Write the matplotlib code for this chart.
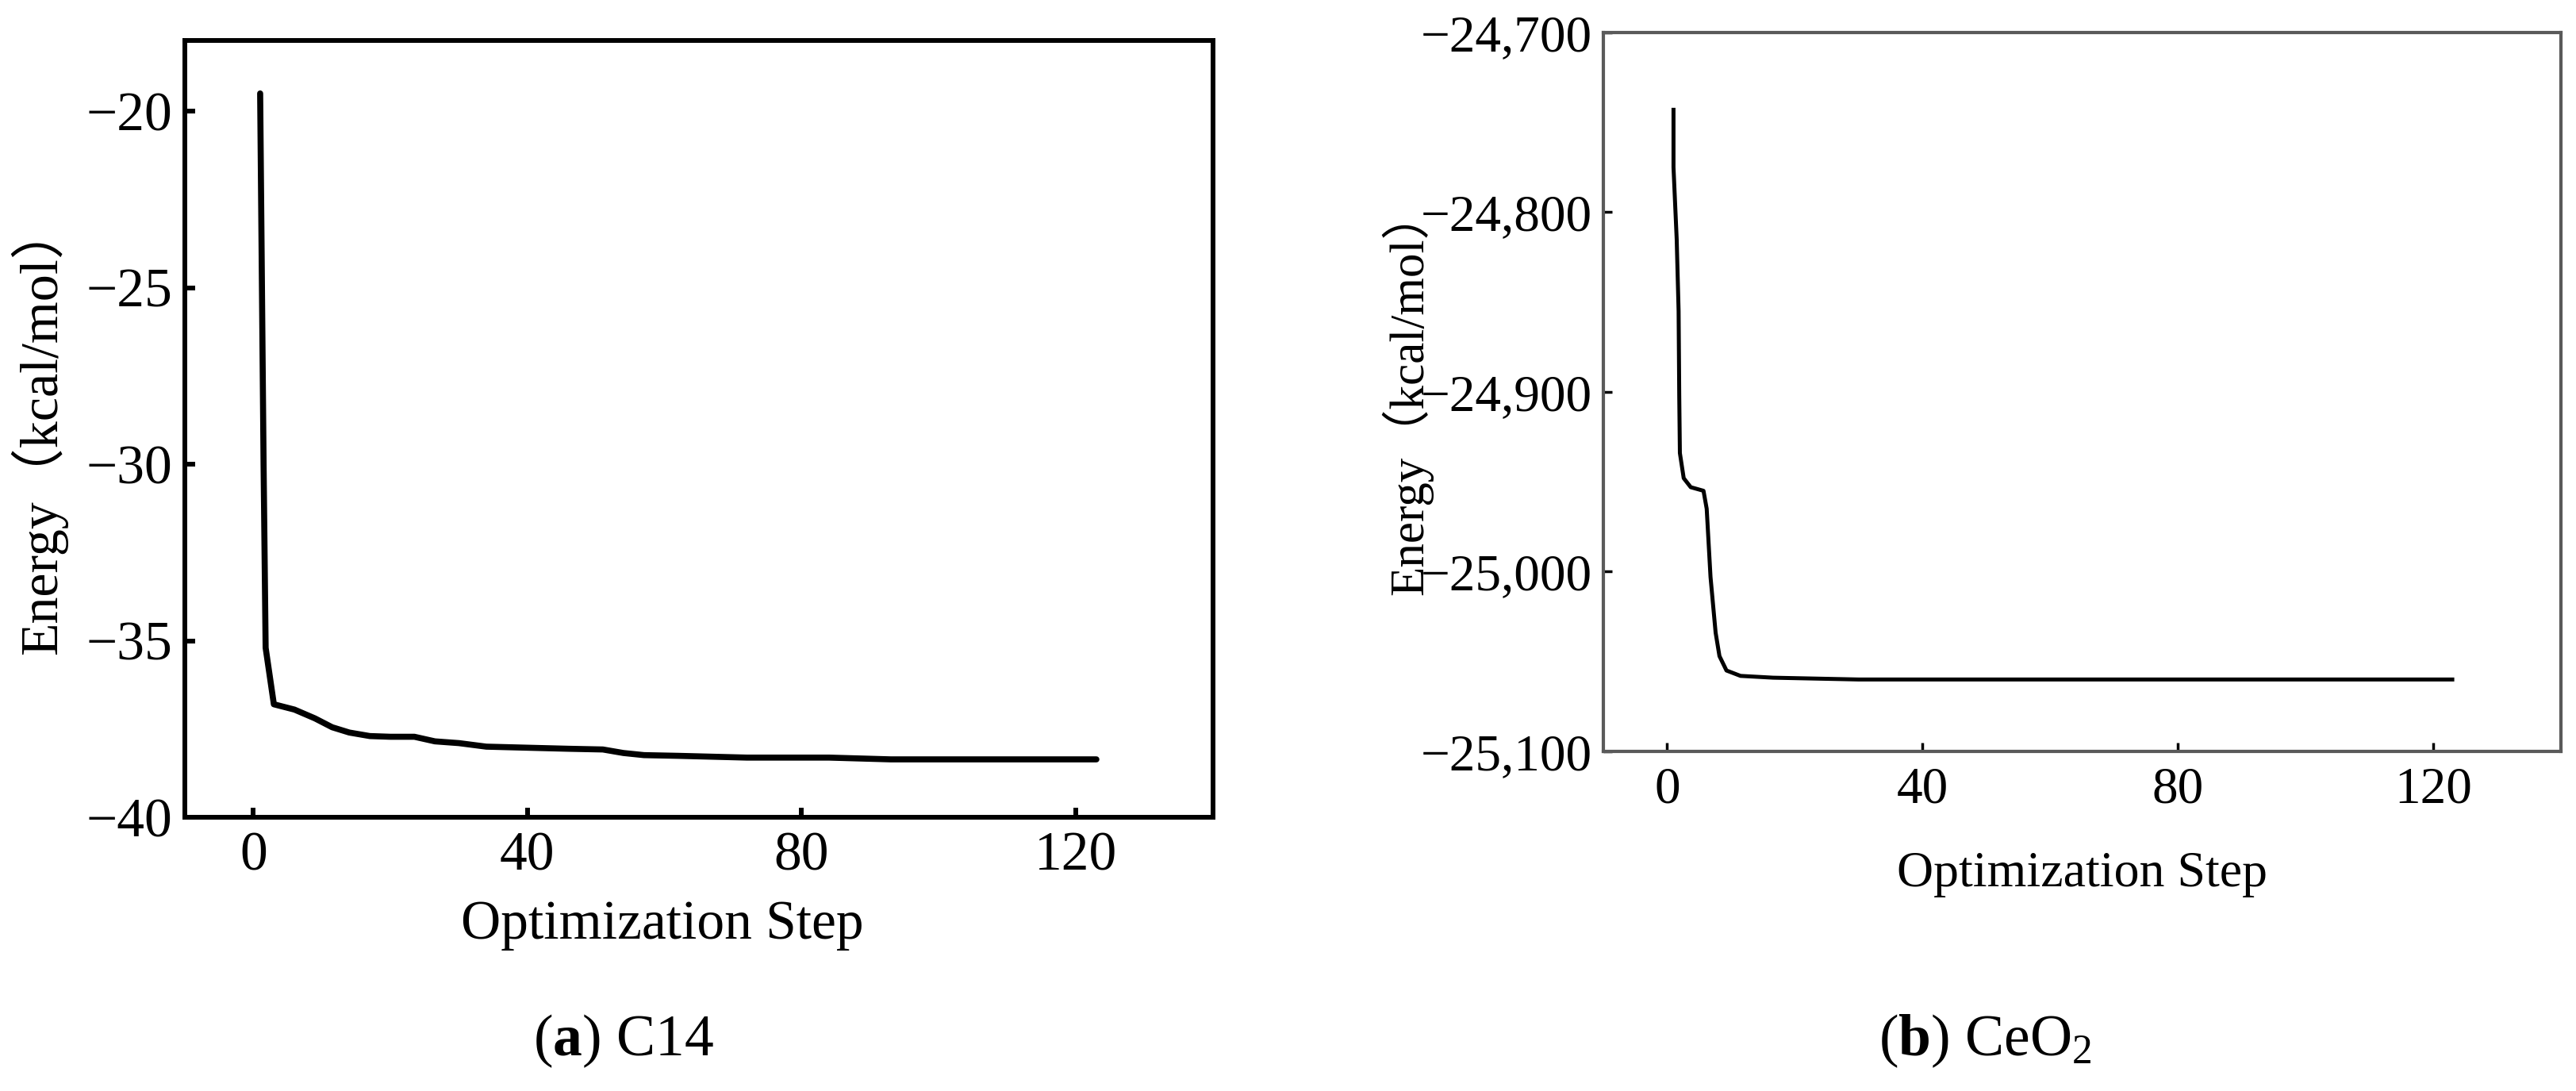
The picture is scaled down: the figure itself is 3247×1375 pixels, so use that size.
import matplotlib.pyplot as plt
from matplotlib.ticker import FuncFormatter

plt.rcParams['font.family'] = ['Liberation Serif', 'Noto Sans CJK SC']
plt.rcParams['mathtext.fontset'] = 'custom'
plt.rcParams['mathtext.rm'] = 'Liberation Serif'
plt.rcParams['mathtext.bf'] = 'Liberation Serif:bold'
plt.rcParams['mathtext.it'] = 'Liberation Serif:italic'

# (a) C14 energy during geometry optimization
c14_step = [1, 1.5, 1.8, 3, 6, 9, 11.5, 14, 17, 20, 23.5, 26.5, 30, 34,
            40, 46, 51, 54, 57, 62, 72, 84, 93, 110, 123]
c14_energy = [-19.5, -30.0, -35.2, -36.8, -36.95, -37.2, -37.45, -37.6, -37.7,
              -37.72, -37.72, -37.85, -37.9, -38.0, -38.03, -38.06, -38.08,
              -38.18, -38.24, -38.26, -38.31, -38.31, -38.36, -38.36, -38.36]

# (b) CeO2 energy during geometry optimization
ceo2_step = [1.0, 1.0, 1.5, 1.8, 1.9, 2.0, 2.6, 3.7, 5.7, 6.2, 6.8, 7.6, 8.2,
             9.3, 11.5, 16.6, 30, 60, 123]
ceo2_energy = [-24743, -24775, -24815, -24855, -24902, -24934, -24948, -24953,
               -24955, -24965, -25003, -25034, -25047, -25055, -25058, -25059,
               -25060, -25060, -25060]

x_ticks = [0, 40, 80, 120]
c14_yticks = [-40, -35, -30, -25, -20]
ceo2_yticks = [-25100, -25000, -24900, -24800, -24700]

ylabel = 'Energy（kcal/mol）'
xlabel = 'Optimization Step'

fig = plt.figure(figsize=(32.48, 13.75), dpi=100)
ax1 = fig.add_axes([0.0717, 0.2509, 0.3990, 0.7120])
ax2 = fig.add_axes([0.6222, 0.3113, 0.3716, 0.6589])

# left panel: heavy black frame
ax1.plot(c14_step, c14_energy, color='black', lw=5.5, solid_capstyle='round',
         solid_joinstyle='round')
ax1.set_xlim(-10, 140)
ax1.set_ylim(-40, -18)
ax1.set_xticks(x_ticks)
ax1.set_yticks(c14_yticks)
for s in ax1.spines.values():
    s.set_linewidth(4.3)
ax1.tick_params(direction='in', length=9, width=4.3, labelsize=50)
ax1.tick_params(axis='x', pad=13)
ax1.tick_params(axis='y', pad=11)
ax1.set_xlabel(xlabel, fontsize=50, va='baseline')
ax1.xaxis.set_label_coords(0.4645, -0.156)
ax1.set_ylabel(ylabel, fontsize=49, va='baseline')
ax1.yaxis.set_label_coords(-0.125, 0.5)

# right panel: thin grey frame
ax2.plot(ceo2_step, ceo2_energy, color='black', lw=3.6)
ax2.set_xlim(-10, 140)
ax2.set_ylim(-25100, -24700)
ax2.set_xticks(x_ticks)
ax2.set_yticks(ceo2_yticks)
ax2.yaxis.set_major_formatter(
    FuncFormatter(lambda v, pos: f"{v:,.0f}".replace("-", "\u2212")))
for s in ax2.spines.values():
    s.set_linewidth(3)
    s.set_color('#5a5a5a')
ax2.tick_params(direction='in', length=8, width=2.5, color='black',
                labelsize=47)
ax2.tick_params(axis='x', pad=14)
ax2.tick_params(axis='y', pad=10)
ax2.set_xlabel(xlabel, fontsize=46, va='baseline')
ax2.xaxis.set_label_coords(0.5, -0.1876)
ax2.set_ylabel(ylabel, fontsize=44, va='baseline')
ax2.yaxis.set_label_coords(-0.189, 0.5)

fig.text(0.2420, 1 - 1330 / 1375, r'($\mathbf{a}$) C14', fontsize=53,
         ha='center', va='baseline')
fig.text(0.7703, 1 - 1330 / 1375, r'($\mathbf{b}$) CeO$_2$', fontsize=53,
         ha='center', va='baseline')

fig.savefig('out.png', dpi=100)
